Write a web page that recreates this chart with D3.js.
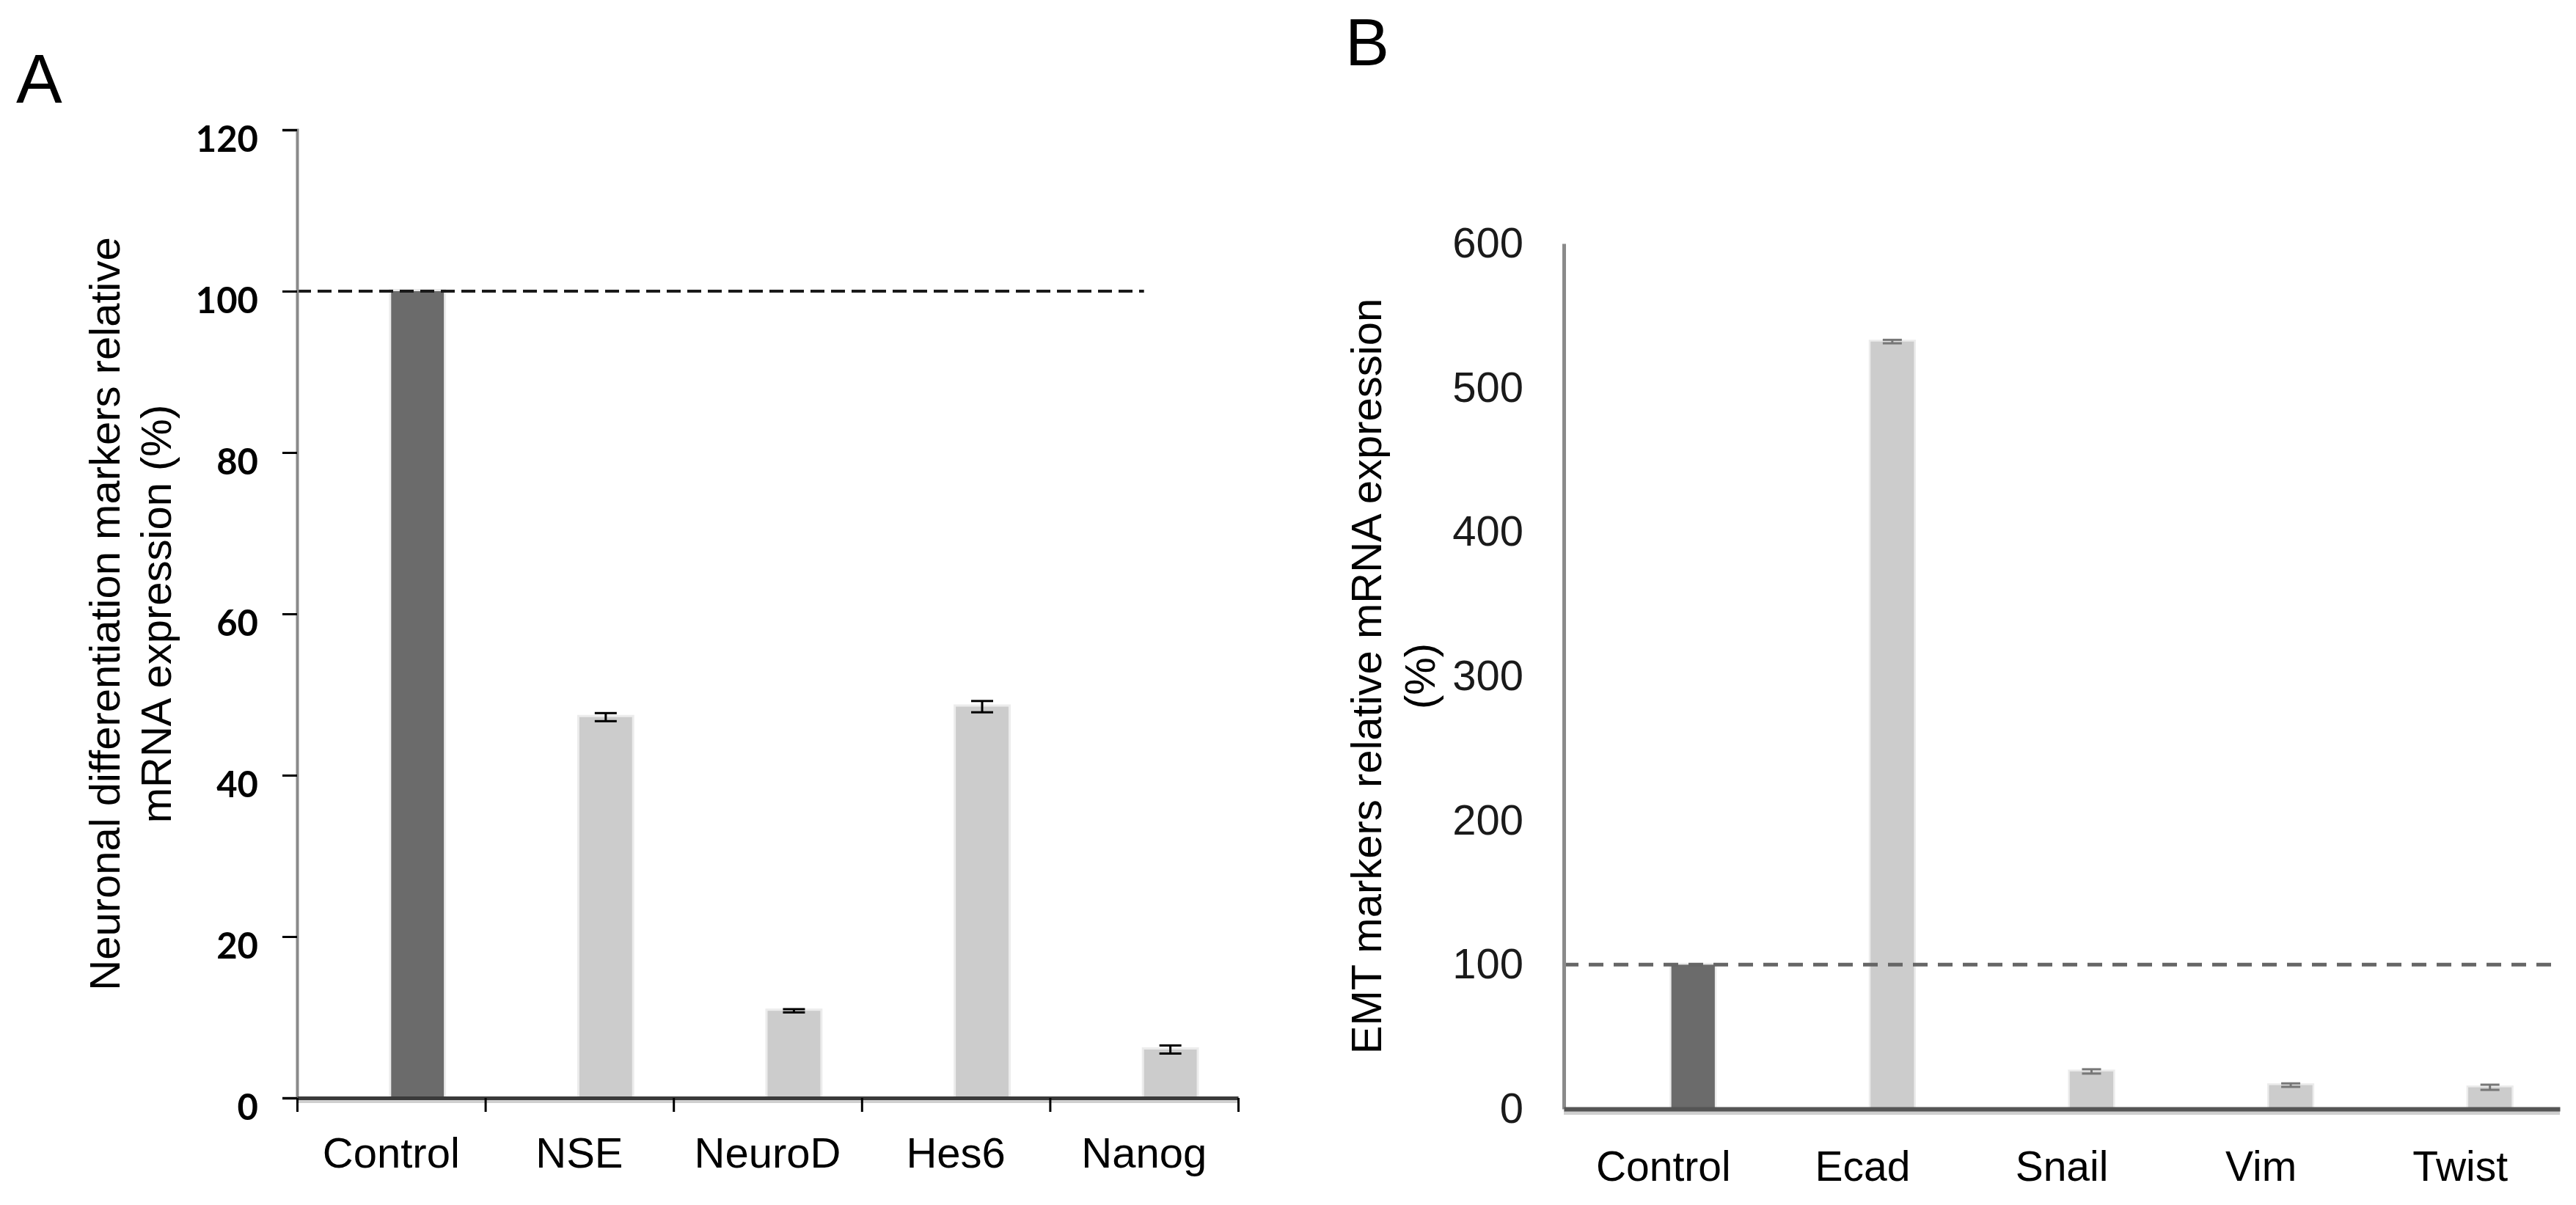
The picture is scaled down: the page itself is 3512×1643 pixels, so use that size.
<!DOCTYPE html>
<html>
<head>
<meta charset="utf-8">
<script src="https://cdn.jsdelivr.net/npm/d3@7"></script>
<style>
  body { margin: 0; background: #fff; }
  svg { display: block; }
</style>
</head>
<body>
<script>
// panel A: neuronal differentiation markers
const catsA = ['Control', 'NSE', 'NeuroD', 'Hes6', 'Nanog'];
const valsA = [100, 47.2, 10.8, 48.5, 6.0];
const errA = [0, 0.5, 0.2, 0.7, 0.5];
const ticksA = [0, 20, 40, 60, 80, 100, 120];

// panel B: EMT markers
const catsB = ['Control', 'Ecad', 'Snail', 'Vim', 'Twist'];
const valsB = [100, 532, 26, 16.5, 15];
const errB = [0, 1.2, 1.5, 1.2, 1.8];
const ticksB = [0, 100, 200, 300, 400, 500, 600];

const width = 3512;
const height = 1643;
const arial = '"Liberation Sans", Arial, sans-serif';

const svg = d3.select('body').append('svg')
  .attr('width', width)
  .attr('height', height);

const barColor = (d, i) => (i === 0 ? '#6b6b6b' : '#cccccc');

// ---------- A ----------
const xA = d3.scaleBand().domain(catsA).range([405, 1688]);
const yA = d3.scaleLinear().domain([0, 120]).range([1497, 177]);
const bwA = xA.bandwidth();

svg.append('text')
  .attr('x', 22).attr('y', 140)
  .attr('font-family', arial).attr('font-size', 94)
  .text('A');

const gA = svg.append('g');

gA.selectAll('rect')
  .data(valsA)
  .join('rect')
  .attr('x', (d, i) => xA(catsA[i]) + bwA * 0.5)
  .attr('width', bwA * 0.28)
  .attr('y', d => yA(d))
  .attr('height', d => yA(0) - yA(d))
  .attr('fill', barColor)
  .attr('stroke', '#ececec')
  .attr('stroke-width', 6)
  .attr('paint-order', 'stroke');

// error bars
const ebA = gA.append('g')
  .attr('stroke', '#000')
  .attr('stroke-width', 3)
  .selectAll('g')
  .data(valsA.map((v, i) => ({ v, e: errA[i], c: catsA[i] })).filter(d => d.e > 0))
  .join('g')
  .attr('transform', d => `translate(${xA(d.c) + bwA * 0.64},0)`);
ebA.append('line')
  .attr('y1', d => yA(d.v - d.e)).attr('y2', d => yA(d.v + d.e));
ebA.append('line')
  .attr('x1', -15).attr('x2', 15)
  .attr('y1', d => yA(d.v + d.e)).attr('y2', d => yA(d.v + d.e));
ebA.append('line')
  .attr('x1', -15).attr('x2', 15)
  .attr('y1', d => yA(d.v - d.e)).attr('y2', d => yA(d.v - d.e));

// 100% reference line, from the axis to the last category centre
gA.append('line')
  .attr('x1', 405)
  .attr('x2', xA(catsA[catsA.length - 1]) + bwA / 2)
  .attr('y1', yA(100)).attr('y2', yA(100))
  .attr('stroke', '#1a1a1a')
  .attr('stroke-width', 4)
  .attr('stroke-dasharray', '19 9');

// y axis
gA.append('g')
  .attr('transform', 'translate(405,0)')
  .call(d3.axisLeft(yA).tickValues(ticksA).tickSize(20).tickPadding(33))
  .call(g => g.select('.domain').attr('stroke', '#8a8a8a').attr('stroke-width', 4))
  .call(g => g.selectAll('.tick line').attr('stroke', '#000').attr('stroke-width', 3))
  .call(g => g.selectAll('.tick text')
    .attr('dy', '0.6em')
    .attr('fill', '#000')
    .attr('font-family', 'Lato, "Open Sans", sans-serif')
    .attr('font-weight', 700)
    .attr('font-size', 49));

// x axis: boundary ticks + centred labels
const edgesA = d3.scaleLinear().domain([0, catsA.length]).range([405, 1688]);
gA.append('line')
  .attr('x1', 405).attr('x2', 1688)
  .attr('y1', yA(0) + 4).attr('y2', yA(0) + 4)
  .attr('stroke', '#cfcfcf').attr('stroke-width', 6);
gA.append('g')
  .attr('transform', `translate(0,${yA(0)})`)
  .call(d3.axisBottom(edgesA).tickValues(d3.range(catsA.length + 1)).tickFormat('').tickSize(19).tickSizeOuter(0))
  .call(g => g.select('.domain').attr('stroke', '#3a3a3a').attr('stroke-width', 5))
  .call(g => g.selectAll('.tick line').attr('stroke', '#000').attr('stroke-width', 3));
gA.append('g')
  .attr('transform', `translate(0,${yA(0)})`)
  .call(d3.axisBottom(xA).tickSize(0).tickPadding(54))
  .call(g => g.select('.domain').remove())
  .call(g => g.selectAll('.tick text')
    .attr('fill', '#000')
    .attr('font-family', arial)
    .attr('font-size', 58));

// y title
const titleA = gA.append('text')
  .attr('transform', `translate(0,${(yA(0) + yA(120)) / 2}) rotate(-90)`)
  .attr('text-anchor', 'middle')
  .attr('font-family', arial)
  .attr('font-size', 58);
titleA.append('tspan').attr('x', 0).attr('y', 163).text('Neuronal differentiation markers relative');
titleA.append('tspan').attr('x', 0).attr('y', 233).text('mRNA expression (%)');

// ---------- B ----------
const xB = d3.scaleBand().domain(catsB).range([2132, 3490]);
const yB = d3.scaleLinear().domain([0, 600]).range([1512, 332]);
const bwB = xB.bandwidth();

svg.append('text')
  .attr('x', 1834).attr('y', 89)
  .attr('font-family', arial).attr('font-size', 90)
  .text('B');

const gB = svg.append('g');

gB.selectAll('rect')
  .data(valsB)
  .join('rect')
  .attr('x', (d, i) => xB(catsB[i]) + bwB * 0.54)
  .attr('width', bwB * 0.218)
  .attr('y', d => yB(d))
  .attr('height', d => yB(0) - yB(d))
  .attr('fill', barColor)
  .attr('stroke', '#ececec')
  .attr('stroke-width', 5)
  .attr('paint-order', 'stroke');

const ebB = gB.append('g')
  .attr('stroke', '#777')
  .attr('stroke-width', 3)
  .selectAll('g')
  .data(valsB.map((v, i) => ({ v, e: errB[i], c: catsB[i] })).filter(d => d.e > 0))
  .join('g')
  .attr('transform', d => `translate(${xB(d.c) + bwB * 0.649},0)`);
ebB.append('line')
  .attr('y1', d => yB(d.v - d.e)).attr('y2', d => yB(d.v + d.e));
ebB.append('line')
  .attr('x1', -13).attr('x2', 13)
  .attr('y1', d => yB(d.v + d.e)).attr('y2', d => yB(d.v + d.e));
ebB.append('line')
  .attr('x1', -13).attr('x2', 13)
  .attr('y1', d => yB(d.v - d.e)).attr('y2', d => yB(d.v - d.e));

gB.append('line')
  .attr('x1', 2132).attr('x2', 3490)
  .attr('y1', yB(100)).attr('y2', yB(100))
  .attr('stroke', '#666')
  .attr('stroke-width', 5)
  .attr('stroke-dasharray', '20 14');

gB.append('g')
  .attr('transform', 'translate(2132,0)')
  .call(d3.axisLeft(yB).tickValues(ticksB).tickSize(0).tickPadding(55))
  .call(g => g.select('.domain').attr('stroke', '#8a8a8a').attr('stroke-width', 5))
  .call(g => g.selectAll('.tick text')
    .attr('fill', '#1a1a1a')
    .attr('font-family', arial)
    .attr('font-size', 58));

gB.append('line')
  .attr('x1', 2132).attr('x2', 3490)
  .attr('y1', yB(0) + 5).attr('y2', yB(0) + 5)
  .attr('stroke', '#cfcfcf').attr('stroke-width', 6);
gB.append('g')
  .attr('transform', `translate(0,${yB(0)})`)
  .call(d3.axisBottom(xB).tickSize(0).tickPadding(58))
  .call(g => g.select('.domain').attr('stroke', '#555').attr('stroke-width', 6))
  .call(g => g.selectAll('.tick text')
    .attr('fill', '#000')
    .attr('font-family', arial)
    .attr('font-size', 57));

const titleB = gB.append('text')
  .attr('transform', `translate(0,${(yB(0) + yB(600)) / 2}) rotate(-90)`)
  .attr('text-anchor', 'middle')
  .attr('font-family', arial)
  .attr('font-size', 58);
titleB.append('tspan').attr('x', 0).attr('y', 1883).text('EMT markers relative mRNA expression');
titleB.append('tspan').attr('x', 0).attr('y', 1956).text('(%)');
</script>
</body>
</html>
